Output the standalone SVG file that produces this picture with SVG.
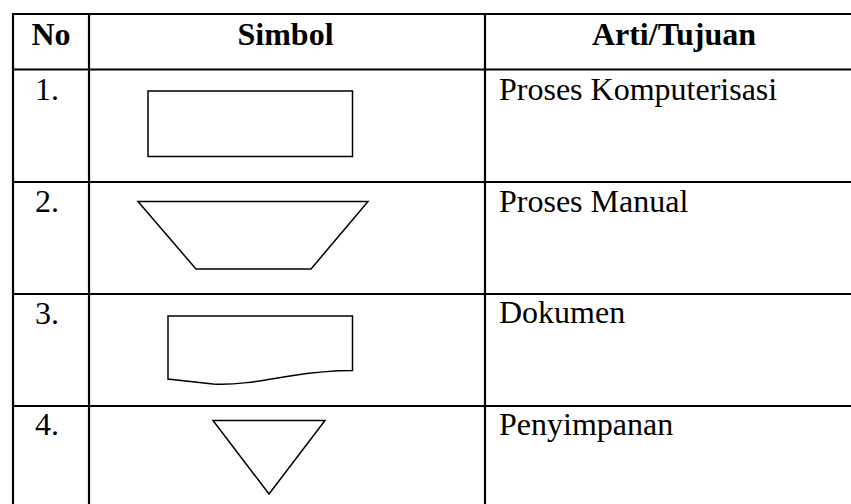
<svg xmlns="http://www.w3.org/2000/svg" width="851" height="504" viewBox="0 0 851 504">
<style>
.grid{stroke:#000;stroke-width:2.2;fill:none}
.shape{stroke:#000;stroke-width:1.5;fill:#fff;stroke-linejoin:miter}
.t{font-family:"Liberation Serif","Times New Roman",serif;font-size:32px;fill:#000}
.h{font-weight:bold}
</style>
<rect width="851" height="504" fill="#fff"/>
<g id="grid" class="grid">
<line x1="13" y1="14" x2="851" y2="14"/>
<line x1="13" y1="69.5" x2="851" y2="69.5"/>
<line x1="13" y1="182" x2="851" y2="182"/>
<line x1="13" y1="294" x2="851" y2="294"/>
<line x1="13" y1="406" x2="851" y2="406"/>
<line x1="13" y1="13" x2="13" y2="504"/>
<line x1="89" y1="13" x2="89" y2="504"/>
<line x1="485" y1="13" x2="485" y2="504"/>
</g>
<g id="header">
<text class="t h" x="51" y="45" text-anchor="middle">No</text>
<text class="t h" x="285.5" y="45" text-anchor="middle">Simbol</text>
<text class="t h" x="674" y="45" text-anchor="middle">Arti/Tujuan</text>
</g>
<g id="row1">
<text class="t" x="35" y="100">1.</text>
<rect class="shape" x="148" y="91" width="204.5" height="65.5"/>
<text class="t" x="499" y="100">Proses Komputerisasi</text>
</g>
<g id="row2">
<text class="t" x="35" y="212">2.</text>
<polygon class="shape" points="138,201.5 368,201.5 311,269 196,269"/>
<text class="t" x="499" y="212">Proses Manual</text>
</g>
<g id="row3">
<text class="t" x="35" y="324">3.</text>
<path class="shape" d="M168,316 H352.5 V370.5 C330,370.5 315,372 290,376 C255,382 235,385 213,384 L168,379 Z"/>
<text class="t" x="499" y="323">Dokumen</text>
</g>
<g id="row4">
<text class="t" x="35" y="435">4.</text>
<polygon class="shape" points="213,420.5 325,420.5 269,494"/>
<text class="t" x="499" y="435">Penyimpanan</text>
</g>
</svg>
